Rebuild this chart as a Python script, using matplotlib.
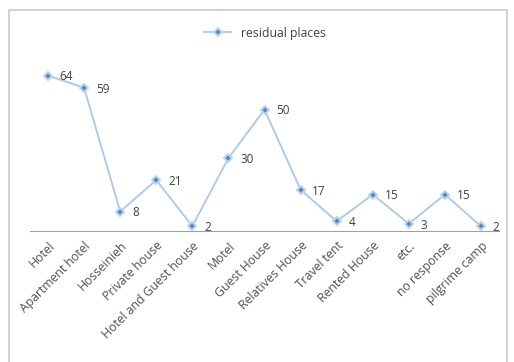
import matplotlib.pyplot as plt
from matplotlib.patches import Rectangle

categories = ['Hotel', 'Apartment hotel', 'Hosseinieh', 'Private house',
              'Hotel and Guest house', 'Motel', 'Guest House', 'Relatives House',
              'Travel tent', 'Rented House', 'etc.', 'no response', 'pilgrime camp']
residual = [64, 59, 8, 21, 2, 30, 50, 17, 4, 15, 3, 15, 2]

plt.rcParams['font.family'] = ['Open Sans', 'DejaVu Sans']

fig = plt.figure(figsize=(5.14, 3.62), dpi=100)
# outer chart frame
fig.patches.append(Rectangle((9 / 514, -0.05), 498 / 514, 1 - 10 / 362 + 0.05,
                             transform=fig.transFigure, fill=False,
                             edgecolor='#c8c8c8', linewidth=1.2))

ax = fig.add_axes([30 / 514, 1 - 231 / 362, 469 / 514, 170 / 362])
x = range(len(categories))
ax.plot(x, residual, color='#a9c8ea', linewidth=1.3, marker='D', markersize=4,
        markerfacecolor='#5b86b8', markeredgecolor='#b9d4f0', markeredgewidth=1.4,
        label='residual places')

for i, v in enumerate(residual):
    ax.annotate(str(v), (i, v), xytext=(8.5, -1), textcoords='offset points',
                ha='left', va='center', fontsize=8.5, color='#404040')

ax.set_xlim(-0.5, len(categories) - 0.5)
ax.set_ylim(0, 70)
ax.set_xticks(list(x))
ax.set_xticklabels(categories, rotation=45, ha='right', rotation_mode='anchor',
                   fontsize=8.8, color='#505050')
ax.tick_params(axis='x', length=0, pad=6)
ax.set_yticks([])
for side in ['top', 'right', 'left']:
    ax.spines[side].set_visible(False)
ax.spines['bottom'].set_color('#a0a0a0')

ax.legend(loc='center', bbox_to_anchor=(265 / 514, 1 - 33 / 362),
          bbox_transform=fig.transFigure, frameon=False, fontsize=8.8,
          handlelength=2.2, labelcolor='#404040')

fig.savefig('out.png', dpi=100)
